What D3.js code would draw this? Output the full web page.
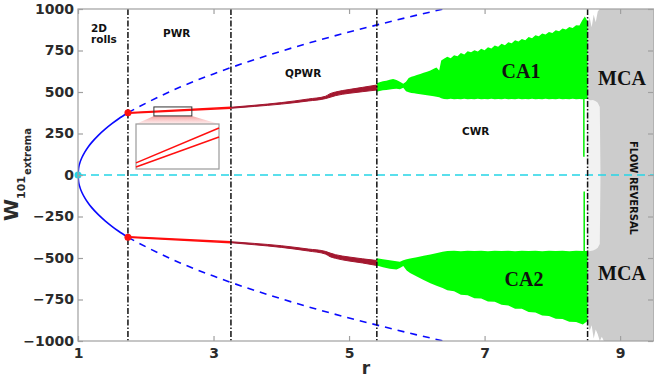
<!DOCTYPE html>
<html>
<head>
<meta charset="utf-8">
<script src="https://cdn.jsdelivr.net/npm/d3@7"></script>
<style>
  body { margin: 0; background: #fff; }
  svg { display: block; }
</style>
</head>
<body>
<div id="chart"></div>
<script>
// ---- data ----
const xTicks = [1, 3, 5, 7, 9];
const yTicks = [-1000, -750, -500, -250, 0, 250, 500, 750, 1000];

// regime boundaries (dash-dot lines)
const boundaries = [1.737, 3.257, 5.41, 8.52];

// 2D rolls branch (solid) and its continuation (dashed)
const rollR = [1, 1.01, 1.03, 1.06, 1.1, 1.15, 1.2, 1.3, 1.4, 1.5, 1.6, 1.737];
const rollTop = [0, 44, 76, 107, 138, 169, 195, 239, 276, 309, 339, 375];
const rollBot = [0, -44, -76, -107, -138, -169, -195, -239, -276, -309, -339, -375];
const rollDashR = [1.737, 2, 2.5, 3, 3.5, 4, 4.5, 5, 5.5, 6, 6.45];
const rollDashTop = [375, 432, 528, 609, 681, 746, 806, 861, 913, 963, 1005];
const rollDashBot = [-375, -432, -528, -609, -681, -746, -806, -861, -913, -963, -1005];

// PWR: two close red lines
const pwrR = [1.737, 3.257];
const pwrTopA = [375, 408];
const pwrTopB = [372, 402];
const pwrBotA = [-375, -408];
const pwrBotB = [-372, -402];

// QPWR band
const qpR = [3.257, 3.6, 4.0, 4.4, 4.65, 4.72, 4.8, 5.0, 5.2, 5.41];
const qpTopOuter = [408, 420, 436, 458, 474, 490, 500, 515, 528, 542];
const qpTopInner = [402, 413, 427, 446, 460, 468, 478, 492, 502, 512];
const qpBotInner = [-402, -412, -426, -446, -460, -470, -480, -494, -505, -515];
const qpBotOuter = [-408, -420, -436, -458, -476, -492, -502, -518, -530, -545];

// CA1 envelope
const ca1R = [5.41, 5.45, 5.5, 5.55, 5.6, 5.65, 5.7, 5.75, 5.8, 5.84,
  5.88, 5.92, 5.96, 6.0, 6.05, 6.1, 6.15, 6.2, 6.25, 6.29,
  6.33, 6.36, 6.4, 6.45, 6.5, 6.55, 6.6, 6.65, 6.7, 6.75,
  6.8, 6.85, 6.9, 6.95, 7.0, 7.05, 7.1, 7.15, 7.2, 7.25,
  7.3, 7.35, 7.4, 7.45, 7.5, 7.55, 7.6, 7.65, 7.7, 7.75,
  7.8, 7.85, 7.9, 7.95, 8.0, 8.05, 8.1, 8.15, 8.2, 8.25,
  8.3, 8.35, 8.4, 8.44, 8.48, 8.52];
const ca1Top = [552, 558, 565, 568, 574, 578, 572, 562, 550, 562,
  585, 592, 596, 602, 608, 616, 622, 630, 640, 648,
  630, 690, 700, 712, 704, 722, 716, 735, 726, 745,
  740, 752, 744, 760, 752, 770, 762, 780, 772, 790,
  782, 800, 794, 812, 804, 820, 812, 832, 824, 842,
  836, 852, 846, 862, 856, 872, 866, 882, 876, 892,
  886, 902, 900, 930, 955, 925];
const ca1Bot = [502, 506, 510, 512, 515, 518, 520, 516, 526, 505,
  498, 494, 492, 489, 486, 484, 481, 478, 475, 472,
  468, 462, 458, 457, 459, 456, 458, 457, 459, 456,
  458, 457, 459, 456, 458, 457, 459, 456, 458, 457,
  459, 456, 458, 457, 459, 456, 458, 457, 459, 456,
  458, 457, 459, 456, 458, 457, 459, 456, 458, 457,
  459, 456, 458, 457, 458, 458];

// CA2 envelope
const ca2R = [5.41, 5.5, 5.6, 5.7, 5.75, 5.8, 5.85, 5.9, 6.0, 6.1,
  6.2, 6.3, 6.38, 6.45, 6.55, 6.65, 6.75, 6.85, 6.95, 7.05,
  7.15, 7.25, 7.35, 7.45, 7.55, 7.65, 7.75, 7.85, 7.95, 8.05,
  8.15, 8.25, 8.35, 8.45, 8.52];
const ca2Inner = [-502, -508, -514, -520, -522, -514, -508, -503, -495, -487,
  -479, -470, -462, -458, -457, -459, -456, -458, -457, -459,
  -456, -458, -457, -459, -456, -458, -457, -459, -456, -458,
  -457, -459, -456, -458, -458];
const ca2Outer = [-545, -555, -565, -570, -560, -548, -575, -590, -612, -632,
  -652, -668, -680, -695, -700, -722, -724, -742, -744, -762,
  -764, -782, -786, -805, -806, -826, -828, -846, -850, -866,
  -868, -884, -886, -900, -880];

// isolated spikes just before MCA
const spikeR = [8.465, 8.47];
const spikeFrom = [458, -458];
const spikeTo = [110, -100];

// MCA (gray) and its lighter inner part
const mcaR = [8.52, 8.55, 8.58, 8.61, 8.64, 8.67, 8.7, 8.73, 8.76, 8.8, 9.5];
const mcaHigh = [880, 950, 890, 965, 920, 985, 1000, 1000, 1000, 1000, 1000];
const mcaLow = [-880, -940, -905, -985, -930, -960, -1000, -975, -1000, -1000, -1000];
const lightR = [8.52, 8.56, 8.6, 8.64, 8.67, 8.7, 8.71];
const lightHigh = [455, 450, 452, 445, 435, 410, 20];
const lightLow = [-462, -458, -455, -448, -438, -415, -20];

// inset (magnified PWR lines)
const insetR = [2.12, 2.68];
const insetSrcW = [356, 410];
const insetLineA = [382.7, 398.2];
const insetLineB = [380.9, 394.2];

// ---- layout ----
const width = 654, height = 380;
const margin = { left: 78, right: 0, top: 9, bottom: 39 };
const plotRight = width - margin.right;
const plotBottom = height - margin.bottom;

const x = d3.scaleLinear().domain([1, 9.5]).range([margin.left, plotRight]);
const y = d3.scaleLinear().domain([-1000, 1000]).range([plotBottom, margin.top]);

const svg = d3.select('#chart').append('svg')
  .attr('width', width)
  .attr('height', height);

const defs = svg.append('defs');
defs.append('clipPath').attr('id', 'plot-clip')
  .append('rect')
  .attr('x', margin.left).attr('y', margin.top)
  .attr('width', plotRight - margin.left).attr('height', plotBottom - margin.top);

const grad = defs.append('linearGradient').attr('id', 'zoom-grad')
  .attr('x1', 0).attr('y1', 0).attr('x2', 0).attr('y2', 1);
grad.append('stop').attr('offset', '0%').attr('stop-color', '#f28b8b').attr('stop-opacity', 0.85);
grad.append('stop').attr('offset', '100%').attr('stop-color', '#fde3e3').attr('stop-opacity', 0.6);

const plot = svg.append('g').attr('clip-path', 'url(#plot-clip)');

const zip = (rs, ws) => rs.map((r, i) => [r, ws[i]]);
const band = (rs, hi, lo) => rs.map((r, i) => ({ r, hi: hi[i], lo: lo[i] }));

const area = d3.area()
  .x(d => x(d.r))
  .y0(d => y(d.lo))
  .y1(d => y(d.hi));
const smoothArea = d3.area()
  .x(d => x(d.r))
  .y0(d => y(d.lo))
  .y1(d => y(d.hi))
  .curve(d3.curveMonotoneX);
const line = d3.line().x(d => x(d[0])).y(d => y(d[1]));
const smooth = d3.line().x(d => x(d[0])).y(d => y(d[1])).curve(d3.curveMonotoneX);

// MCA gray region
plot.append('path')
  .datum(band(mcaR, mcaHigh, mcaLow))
  .attr('d', area)
  .attr('fill', '#cccccc');
plot.append('path')
  .datum(band(lightR, lightHigh, lightLow))
  .attr('d', area)
  .attr('fill', '#f2f2f2');

// CA1 / CA2 green regions
plot.append('path')
  .datum(band(ca1R, ca1Top, ca1Bot))
  .attr('d', area)
  .attr('fill', '#00ff00');
plot.append('path')
  .datum(band(ca2R, ca2Inner, ca2Outer))
  .attr('d', area)
  .attr('fill', '#00ff00');
plot.selectAll('.spike')
  .data(spikeR.map((r, i) => ({ r, a: spikeFrom[i], b: spikeTo[i] })))
  .enter().append('line')
  .attr('class', 'spike')
  .attr('x1', d => x(d.r)).attr('x2', d => x(d.r))
  .attr('y1', d => y(d.a)).attr('y2', d => y(d.b))
  .attr('stroke', '#00ee00')
  .attr('stroke-width', 1.5);

// blue roll branches
[rollTop, rollBot].forEach(ws => {
  plot.append('path')
    .datum(zip(rollR, ws))
    .attr('d', smooth)
    .attr('fill', 'none')
    .attr('stroke', '#0a0aff')
    .attr('stroke-width', 1.6);
});
[rollDashTop, rollDashBot].forEach(ws => {
  plot.append('path')
    .datum(zip(rollDashR, ws))
    .attr('d', smooth)
    .attr('fill', 'none')
    .attr('stroke', '#0a0aff')
    .attr('stroke-width', 1.6)
    .attr('stroke-dasharray', '7,6');
});

// PWR red lines
[pwrTopA, pwrTopB, pwrBotA, pwrBotB].forEach(ws => {
  plot.append('path')
    .datum(zip(pwrR, ws))
    .attr('d', line)
    .attr('fill', 'none')
    .attr('stroke', '#ff0d0d')
    .attr('stroke-width', 1.3);
});

// QPWR dark red bands
plot.append('path')
  .datum(band(qpR, qpTopOuter, qpTopInner))
  .attr('d', smoothArea)
  .attr('fill', '#a3172f')
  .attr('stroke', '#a3172f')
  .attr('stroke-width', 1);
plot.append('path')
  .datum(band(qpR, qpBotInner, qpBotOuter))
  .attr('d', smoothArea)
  .attr('fill', '#a3172f')
  .attr('stroke', '#a3172f')
  .attr('stroke-width', 1);

// zero line
plot.append('line')
  .attr('x1', margin.left).attr('x2', plotRight)
  .attr('y1', y(0)).attr('y2', y(0))
  .attr('stroke', '#25d5e6')
  .attr('stroke-width', 1.6)
  .attr('stroke-dasharray', '8,5');

// regime boundaries
plot.selectAll('.bound')
  .data(boundaries)
  .enter().append('line')
  .attr('class', 'bound')
  .attr('x1', d => x(d)).attr('x2', d => x(d))
  .attr('y1', margin.top).attr('y2', plotBottom)
  .attr('stroke', '#111')
  .attr('stroke-width', 1.5)
  .attr('stroke-dasharray', '6,2,1.5,2');

// markers
svg.append('circle')
  .attr('cx', x(1)).attr('cy', y(0)).attr('r', 3.5)
  .attr('fill', '#25d5e6');
svg.selectAll('.hopf')
  .data([rollTop[rollTop.length - 1], rollBot[rollBot.length - 1]])
  .enter().append('circle')
  .attr('class', 'hopf')
  .attr('cx', x(rollR[rollR.length - 1])).attr('cy', d => y(d)).attr('r', 3.5)
  .attr('fill', '#ff1010');

// inset: source box, connector and magnified view
const box = { x0: 136, x1: 219, y0: 124, y1: 169 };
const srcX0 = x(insetR[0]), srcX1 = x(insetR[1]);
const srcY0 = y(insetSrcW[1]), srcY1 = y(insetSrcW[0]);
svg.append('path')
  .attr('d', `M${srcX0},${srcY1}L${srcX1},${srcY1}L${box.x1},${box.y0}L${box.x0},${box.y0}Z`)
  .attr('fill', 'url(#zoom-grad)');
svg.append('rect')
  .attr('x', srcX0).attr('y', srcY0)
  .attr('width', srcX1 - srcX0).attr('height', srcY1 - srcY0)
  .attr('fill', 'none')
  .attr('stroke', '#333')
  .attr('stroke-width', 1);
svg.append('rect')
  .attr('x', box.x0).attr('y', box.y0)
  .attr('width', box.x1 - box.x0).attr('height', box.y1 - box.y0)
  .attr('fill', '#fff')
  .attr('stroke', '#9a9a9a')
  .attr('stroke-width', 1.2);
const ix = d3.scaleLinear().domain(insetR).range([box.x0, box.x1]);
const iy = d3.scaleLinear().domain([380, 400]).range([box.y1, box.y0]);
[insetLineA, insetLineB].forEach(ws => {
  svg.append('line')
    .attr('x1', ix(insetR[0])).attr('y1', iy(ws[0]))
    .attr('x2', ix(insetR[1])).attr('y2', iy(ws[1]))
    .attr('stroke', '#ff1010')
    .attr('stroke-width', 1.5);
});

// frame and axes
svg.append('rect')
  .attr('x', margin.left).attr('y', margin.top)
  .attr('width', plotRight - margin.left).attr('height', plotBottom - margin.top)
  .attr('fill', 'none')
  .attr('stroke', '#a0a0a0')
  .attr('stroke-width', 1.2);

const styleAxis = g => {
  g.select('.domain').remove();
  g.selectAll('line').attr('stroke', '#a0a0a0').attr('stroke-width', 1.2);
  g.selectAll('text')
    .attr('fill', '#2b2b2b')
    .style('font-family', '"DejaVu Sans", sans-serif')
    .style('font-weight', 'bold')
    .style('font-size', '14px');
};

svg.append('g')
  .attr('transform', `translate(0,${plotBottom})`)
  .call(d3.axisBottom(x).tickValues(xTicks).tickFormat(d3.format('d')).tickSize(-5).tickPadding(7))
  .call(styleAxis);
svg.append('g')
  .attr('transform', `translate(0,${margin.top})`)
  .call(d3.axisTop(x).tickValues(xTicks).tickFormat('').tickSize(-5))
  .call(styleAxis);
svg.append('g')
  .attr('transform', `translate(${margin.left},0)`)
  .call(d3.axisLeft(y).tickValues(yTicks).tickFormat(d3.format('d')).tickSize(-5).tickPadding(4))
  .call(styleAxis);
svg.append('g')
  .attr('transform', `translate(${plotRight - 1},0)`)
  .call(d3.axisRight(y).tickValues(yTicks).tickFormat('').tickSize(-5))
  .call(styleAxis);

// axis titles
svg.append('text')
  .attr('x', (margin.left + plotRight) / 2)
  .attr('y', 374)
  .attr('text-anchor', 'middle')
  .attr('fill', '#2b2b2b')
  .style('font-family', '"DejaVu Sans", sans-serif')
  .style('font-weight', 'bold')
  .style('font-size', '17px')
  .text('r');

const yl = svg.append('text')
  .attr('transform', 'translate(18,221) rotate(-90)')
  .attr('fill', '#2b2b2b')
  .style('font-family', '"DejaVu Sans", sans-serif')
  .style('font-weight', 'bold');
yl.append('tspan').style('font-size', '20px').text('W');
yl.append('tspan').attr('dy', 7).style('font-size', '11px').text('101');
yl.append('tspan').attr('dy', 6).attr('dx', 1).style('font-size', '10px').text('extrema');

// region labels
const sans = (t, px, py) => svg.append('text')
  .attr('x', px).attr('y', py)
  .attr('fill', '#111')
  .style('font-family', '"DejaVu Sans", sans-serif')
  .style('font-weight', 'bold')
  .style('font-size', '10.5px')
  .text(t);
sans('2D', 91, 32);
sans('rolls', 91, 43);
sans('PWR', 163, 37);
sans('QPWR', 285, 77);
sans('CWR', 462, 135);

const serif = (t, cx, cy) => svg.append('text')
  .attr('x', cx).attr('y', cy)
  .attr('text-anchor', 'middle')
  .attr('fill', '#111')
  .style('font-family', '"Liberation Serif", "Times New Roman", serif')
  .style('font-weight', 'bold')
  .style('font-size', '20px')
  .text(t);
serif('CA1', 521, 78);
serif('MCA', 622, 85);
serif('CA2', 524, 286);
serif('MCA', 622, 280);

svg.append('text')
  .attr('transform', 'translate(630,188) rotate(90)')
  .attr('text-anchor', 'middle')
  .attr('fill', '#111')
  .style('font-family', '"DejaVu Sans", sans-serif')
  .style('font-weight', 'bold')
  .style('font-size', '10px')
  .text('FLOW REVERSAL');
</script>
</body>
</html>
